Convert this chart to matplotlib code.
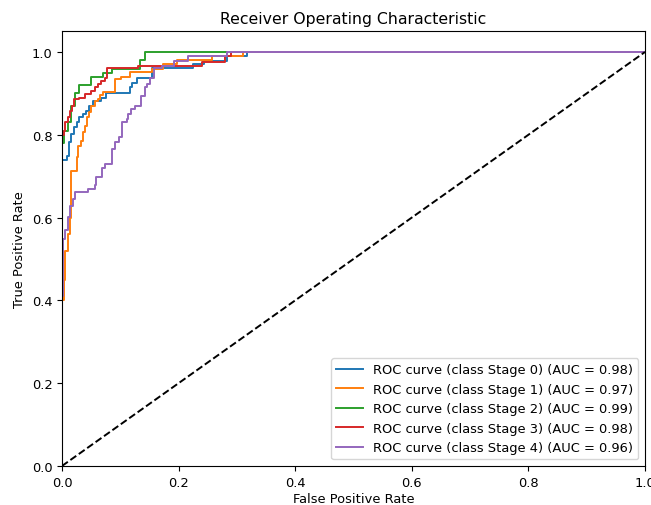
import matplotlib
matplotlib.use("Agg")
from matplotlib import pyplot as plt

plt.rcParams["font.size"] = 9.4

# ROC points (fpr, tpr), one pair per vertical rise
labels = ["Stage 0", "Stage 1", "Stage 2", "Stage 3", "Stage 4"]
aucs = [0.98, 0.97, 0.99, 0.98, 0.96]

fpr0 = [0, 0, 0.009, 0.012, 0.016, 0.021, 0.025, 0.030, 0.036, 0.042, 0.047, 0.053,
        0.067, 0.075, 0.117, 0.120, 0.128, 0.154, 0.224, 0.244, 0.283, 0.318, 1.0]
tpr0 = [0, 0.74, 0.75, 0.783, 0.802, 0.818, 0.83, 0.843, 0.85, 0.858, 0.870, 0.882,
        0.89, 0.90, 0.915, 0.924, 0.938, 0.961, 0.971, 0.979, 0.991, 1.0, 1.0]

fpr1 = [0, 0, 0.003, 0.006, 0.010, 0.014, 0.015, 0.025, 0.028, 0.032, 0.036, 0.039,
        0.043, 0.046, 0.050, 0.056, 0.062, 0.066, 0.071, 0.091, 0.102, 0.117, 0.154,
        0.174, 0.197, 0.257, 0.311, 1.0]
tpr1 = [0, 0.40, 0.45, 0.52, 0.56, 0.60, 0.713, 0.746, 0.774, 0.786, 0.806, 0.822,
        0.842, 0.855, 0.870, 0.882, 0.886, 0.895, 0.903, 0.935, 0.94, 0.951, 0.959,
        0.971, 0.981, 0.99, 1.0, 1.0]

fpr2 = [0, 0, 0.003, 0.010, 0.015, 0.022, 0.030, 0.049, 0.070, 0.086, 0.134, 0.142, 1.0]
tpr2 = [0, 0.78, 0.81, 0.83, 0.87, 0.90, 0.92, 0.94, 0.95, 0.96, 0.98, 1.0, 1.0]

fpr3 = [0, 0, 0.003, 0.006, 0.010, 0.013, 0.017, 0.021, 0.030, 0.039, 0.049, 0.056,
        0.062, 0.067, 0.073, 0.078, 0.13, 0.24, 0.28, 0.29, 1.0]
tpr3 = [0, 0.80, 0.81, 0.83, 0.843, 0.858, 0.870, 0.886, 0.89, 0.899, 0.907, 0.915,
        0.923, 0.93, 0.938, 0.961, 0.967, 0.977, 0.99, 1.0, 1.0]

fpr4 = [0, 0, 0.002, 0.005, 0.010, 0.014, 0.019, 0.022, 0.044, 0.057, 0.059, 0.068,
        0.074, 0.085, 0.091, 0.098, 0.103, 0.111, 0.114, 0.118, 0.126, 0.135, 0.142,
        0.145, 0.151, 0.157, 0.171, 0.192, 0.217, 0.283, 1.0]
tpr4 = [0, 0.41, 0.548, 0.57, 0.601, 0.629, 0.645, 0.663, 0.669, 0.679, 0.697, 0.719,
        0.729, 0.766, 0.782, 0.794, 0.83, 0.838, 0.85, 0.862, 0.87, 0.894, 0.915,
        0.923, 0.938, 0.961, 0.967, 0.979, 0.991, 1.0, 1.0]

fprs = [fpr0, fpr1, fpr2, fpr3, fpr4]
tprs = [tpr0, tpr1, tpr2, tpr3, tpr4]

fig = plt.figure(figsize=(6.51, 5.06), dpi=100)
ax = fig.add_axes([0.0952, 0.0771, 0.8955, 0.859])

for i in range(len(labels)):
    ax.plot(fprs[i], tprs[i], drawstyle="steps-post", lw=1.4,
            label=f"ROC curve (class {labels[i]}) (AUC = {aucs[i]:.2f})")

ax.plot([0, 1], [0, 1], "k--", lw=1.4)
ax.set_xlim(0.0, 1.0)
ax.set_ylim(0.0, 1.05)
ax.set_xlabel("False Positive Rate", labelpad=2.5)
ax.set_ylabel("True Positive Rate")
ax.set_title("Receiver Operating Characteristic", fontsize=11.3)
ax.legend(loc="lower right")

fig.savefig("out.png", dpi=100)
